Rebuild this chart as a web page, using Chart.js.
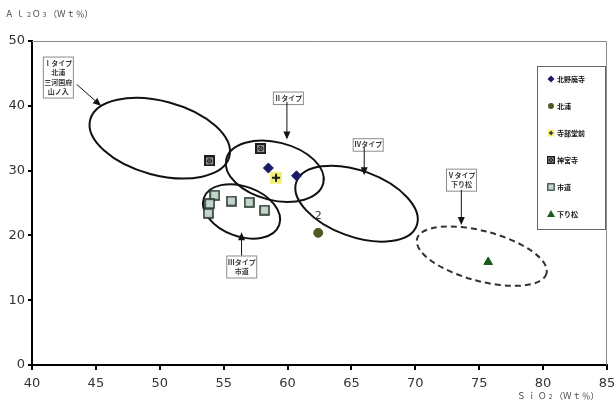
<!DOCTYPE html>
<html>
<head>
<meta charset="utf-8">
<script src="https://cdn.jsdelivr.net/npm/chart.js@4"></script>
<style>
  html, body { margin: 0; padding: 0; background: #fff; }
  #wrap { width: 616px; height: 407px; }
</style>
</head>
<body>
<div id="wrap"><canvas id="chart" width="616" height="407"></canvas></div>
<script>
// site names (legend order)
const sites = ['北野廃寺', '北浦', '寺部堂前', '神宮寺', '市道', '下り松'];

// SiO2 / Al2O3 (Wt%) per site
const kitanoSiO2 = [58.5, 60.7];
const kitanoAl2O3 = [30.4, 29.2];
const kitauraSiO2 = [62.4];
const kitauraAl2O3 = [20.4];
const terabeSiO2 = [59.1];
const terabeAl2O3 = [28.9];
const jinguSiO2 = [53.9, 57.9];
const jinguAl2O3 = [31.5, 33.4];
const shidoSiO2 = [54.3, 53.9, 53.8, 55.6, 57.0, 58.2];
const shidoAl2O3 = [26.2, 24.9, 23.4, 25.3, 25.1, 23.9];
const sagarimatsuSiO2 = [75.7];
const sagarimatsuAl2O3 = [15.9];

const xTicks = [40, 45, 50, 55, 60, 65, 70, 75, 80, 85];
const yTicks = [0, 10, 20, 30, 40, 50];

const pairs = (xs, ys) => xs.map((x, i) => ({ x: x, y: ys[i] }));

// little canvases for the marker types that Chart.js has no style for
function makeMarker(size, draw) {
    const c = document.createElement('canvas');
    c.width = size; c.height = size;
    draw(c.getContext('2d'), size);
    return c;
}
const plusMarker = makeMarker(14, (g, s) => {
    g.fillStyle = '#f4f07c';
    g.fillRect(1, 1, s - 2, s - 2);
    g.strokeStyle = '#1a1a1a';
    g.lineWidth = 2;
    g.beginPath();
    g.moveTo(s / 2, 3); g.lineTo(s / 2, s - 3);
    g.moveTo(3, s / 2); g.lineTo(s - 3, s / 2);
    g.stroke();
});
const boxXMarker = makeMarker(11, (g, s) => {
    g.fillStyle = '#1c1c1c';
    g.fillRect(0, 0, s, s);
    g.strokeStyle = '#9a9a9a';
    g.lineWidth = 1;
    g.strokeRect(2.5, 2.5, s - 5, s - 5);
    g.beginPath();
    g.moveTo(3, 3); g.lineTo(s - 3, s - 3);
    g.moveTo(s - 3, 3); g.lineTo(3, s - 3);
    g.stroke();
});
const squareMarker = makeMarker(11, (g, s) => {
    g.fillStyle = '#c3d4cb';
    g.fillRect(1, 1, s - 2, s - 2);
    g.strokeStyle = '#2b3b33';
    g.lineWidth = 1.6;
    g.strokeRect(1, 1, s - 2, s - 2);
});

const datasets = [
    { label: sites[0], data: pairs(kitanoSiO2, kitanoAl2O3), pointStyle: 'rectRot', pointRadius: 5,
      backgroundColor: '#1b1a66', borderColor: '#1b1a66' },
    { label: sites[1], data: pairs(kitauraSiO2, kitauraAl2O3), pointStyle: 'circle', pointRadius: 4.5,
      backgroundColor: '#4b5a22', borderColor: '#4b5a22' },
    { label: sites[2], data: pairs(terabeSiO2, terabeAl2O3), pointStyle: plusMarker },
    { label: sites[3], data: pairs(jinguSiO2, jinguAl2O3), pointStyle: boxXMarker },
    { label: sites[4], data: pairs(shidoSiO2, shidoAl2O3), pointStyle: squareMarker },
    { label: sites[5], data: pairs(sagarimatsuSiO2, sagarimatsuAl2O3), pointStyle: 'triangle', pointRadius: 5,
      backgroundColor: '#1d5a1d', borderColor: '#1d5a1d' }
];

// grouping ellipses: centre in data units, semi-axes in px, tilt in degrees
const groups = [
    { cx: 50.0, cy: 35.0, a: 72, b: 37, rot: 15, dash: [] },
    { cx: 59.0, cy: 29.9, a: 50, b: 29, rot: 14, dash: [] },
    { cx: 56.4, cy: 23.7, a: 40, b: 25, rot: 20, dash: [] },
    { cx: 65.4, cy: 24.9, a: 64, b: 33, rot: 20, dash: [] },
    { cx: 75.2, cy: 16.8, a: 67, b: 25, rot: 15, dash: [6, 4] }
];

// callout boxes with arrows (box left/top in data units, arrow from box edge to tip)
const callouts = [
    { lines: ['Ⅰタイプ', '北浦', '三河国府', '山ノ入'], x: 40.85, y: 47.6, w: 30, tip: [45.4, 40.0], from: [43.5, 43.3] },
    { lines: ['Ⅱタイプ'], x: 58.85, y: 42.2, w: 30, tip: [59.95, 34.8], from: [59.95, 40.6] },
    { lines: ['Ⅳタイプ'], x: 65.1, y: 35.0, w: 30, tip: [66.0, 29.3], from: [66.0, 33.6] },
    { lines: ['Ⅴタイプ', '下り松'], x: 72.4, y: 30.3, w: 30, tip: [73.6, 21.6], from: [73.6, 27.0] },
    { lines: ['Ⅲタイプ', '市道'], x: 55.2, y: 16.9, w: 30, tip: [56.4, 20.5], from: [56.4, 16.9] }
];

function drawArrow(ctx, x1, y1, x2, y2) {
    const ang = Math.atan2(y2 - y1, x2 - x1);
    ctx.beginPath();
    ctx.moveTo(x1, y1);
    ctx.lineTo(x2 - 5 * Math.cos(ang), y2 - 5 * Math.sin(ang));
    ctx.stroke();
    ctx.beginPath();
    ctx.moveTo(x2, y2);
    ctx.lineTo(x2 - 8 * Math.cos(ang) + 3.5 * Math.sin(ang), y2 - 8 * Math.sin(ang) - 3.5 * Math.cos(ang));
    ctx.lineTo(x2 - 8 * Math.cos(ang) - 3.5 * Math.sin(ang), y2 - 8 * Math.sin(ang) + 3.5 * Math.cos(ang));
    ctx.closePath();
    ctx.fill();
}

function drawPieces(ctx, pieces, x, y) {
    pieces.forEach(p => {
        ctx.font = p[1] + 'px "Noto Sans CJK JP"';
        ctx.fillText(p[0], x, y + (p[2] || 0));
        x += ctx.measureText(p[0]).width + (p[3] || 0);
    });
}

const annotations = {
    id: 'annotations',
    beforeDatasetsDraw(chart) {
        const { ctx, chartArea, scales } = chart;
        const xs = scales.x, ys = scales.y;
        ctx.save();
        // thin frame on top and right
        ctx.strokeStyle = '#8a8a8a';
        ctx.lineWidth = 1;
        ctx.beginPath();
        ctx.moveTo(chartArea.left, chartArea.top + 0.5);
        ctx.lineTo(chartArea.right - 0.5, chartArea.top + 0.5);
        ctx.lineTo(chartArea.right - 0.5, chartArea.bottom);
        ctx.stroke();

        groups.forEach(g => {
            ctx.strokeStyle = g.dash.length ? '#333' : '#111';
            ctx.lineWidth = 2;
            ctx.setLineDash(g.dash);
            ctx.beginPath();
            ctx.ellipse(xs.getPixelForValue(g.cx), ys.getPixelForValue(g.cy), g.a, g.b, g.rot * Math.PI / 180, 0, Math.PI * 2);
            ctx.stroke();
        });
        ctx.setLineDash([]);

        ctx.textAlign = 'center';
        ctx.textBaseline = 'middle';
        callouts.forEach(c => {
            const bx = xs.getPixelForValue(c.x), by = ys.getPixelForValue(c.y);
            const h = c.lines.length * 9.5 + 3;
            ctx.fillStyle = '#fff';
            ctx.fillRect(bx, by, c.w, h);
            ctx.strokeStyle = '#8c8c8c';
            ctx.lineWidth = 1;
            ctx.strokeRect(bx + 0.5, by + 0.5, c.w, h);
            ctx.fillStyle = '#3a3a3a';
            ctx.font = 'bold 7px "Noto Sans CJK JP"';
            c.lines.forEach((t, i) => ctx.fillText(t, bx + c.w / 2 + 0.5, by + 6.5 + i * 9.5));
            ctx.strokeStyle = '#111';
            ctx.fillStyle = '#111';
            drawArrow(ctx, xs.getPixelForValue(c.from[0]), ys.getPixelForValue(c.from[1]),
                      xs.getPixelForValue(c.tip[0]), ys.getPixelForValue(c.tip[1]));
        });

        // sample number beside the 北浦 point
        ctx.fillStyle = '#333';
        ctx.font = '11px "DejaVu Sans"';
        ctx.fillText('2', xs.getPixelForValue(kitauraSiO2[0]), ys.getPixelForValue(kitauraAl2O3[0]) - 17);
        ctx.restore();
    },
    afterDraw(chart) {
        const { ctx } = chart;
        ctx.save();
        // axis titles
        ctx.fillStyle = '#444';
        ctx.textAlign = 'left';
        ctx.textBaseline = 'middle';
        drawPieces(ctx, [['Ａ', 8.5, 0, 2], ['ｌ', 8.5, 0, 2], ['２', 6, 1], ['Ｏ', 8.5, 0, 1], ['３', 6, 1, 1], ['（Ｗ', 8.5, 0, 1], ['ｔ', 8.5, 0, 1], ['％）', 8.5]], 5, 14);
        drawPieces(ctx, [['Ｓ', 8.5, 0, 2], ['ｉ', 8.5, 0, 2], ['Ｏ', 8.5, 0, 1], ['２', 6, 1, 1], ['（Ｗ', 8.5, 0, 1], ['ｔ', 8.5, 0, 1], ['％）', 8.5]], 517, 396);

        // legend box
        const lx = 537, ly = 66, lw = 68, lh = 163;
        ctx.fillStyle = '#fff';
        ctx.fillRect(lx, ly, lw, lh);
        ctx.strokeStyle = '#666';
        ctx.lineWidth = 1;
        ctx.strokeRect(lx + 0.5, ly + 0.5, lw, lh);
        chart.data.datasets.forEach((ds, i) => {
            const y = 79 + i * 27;
            const sx = 551;
            const st = ds.pointStyle;
            ctx.fillStyle = ds.backgroundColor || '#000';
            if (typeof st !== 'string') {
                ctx.drawImage(st, sx - 4, y - 4, 8, 8);
            } else if (st === 'rectRot') {
                ctx.beginPath();
                ctx.moveTo(sx, y - 3.5); ctx.lineTo(sx + 3.5, y); ctx.lineTo(sx, y + 3.5); ctx.lineTo(sx - 3.5, y);
                ctx.fill();
            } else if (st === 'circle') {
                ctx.beginPath();
                ctx.arc(sx, y, 3, 0, Math.PI * 2);
                ctx.fill();
            } else if (st === 'triangle') {
                ctx.beginPath();
                ctx.moveTo(sx, y - 4); ctx.lineTo(sx + 4, y + 3); ctx.lineTo(sx - 4, y + 3);
                ctx.fill();
            }
            ctx.fillStyle = '#111';
            ctx.font = 'bold 7px "Noto Sans CJK JP"';
            ctx.fillText(ds.label, sx + 6, y + 0.5);
        });
        ctx.restore();
    }
};

new Chart(document.getElementById('chart'), {
    type: 'scatter',
    data: { datasets: datasets },
    options: {
        responsive: false,
        animation: false,
        layout: { padding: { top: 41, right: 9, left: 0, bottom: 0 } },
        plugins: { legend: { display: false }, tooltip: { enabled: false } },
        scales: {
            x: {
                type: 'linear', min: 40, max: 85,
                afterBuildTicks: s => { s.ticks = xTicks.map(v => ({ value: v })); },
                afterFit: s => { s.height = 42; s.paddingRight = 0; s.paddingLeft = 0; },
                border: { color: '#000', width: 2 },
                grid: { display: true, drawOnChartArea: false, tickLength: 5, color: '#000', lineWidth: 2 },
                ticks: { color: '#333', padding: 6, font: { family: 'DejaVu Sans', size: 13 } }
            },
            y: {
                type: 'linear', min: 0, max: 50,
                afterBuildTicks: s => { s.ticks = yTicks.map(v => ({ value: v })); },
                afterFit: s => { s.width = 32; },
                border: { color: '#000', width: 2 },
                grid: { display: true, drawOnChartArea: false, tickLength: 4, color: '#000', lineWidth: 2 },
                ticks: { color: '#333', padding: 3, font: { family: 'DejaVu Sans', size: 13 } }
            }
        }
    },
    plugins: [annotations]
});
</script>
</body>
</html>
